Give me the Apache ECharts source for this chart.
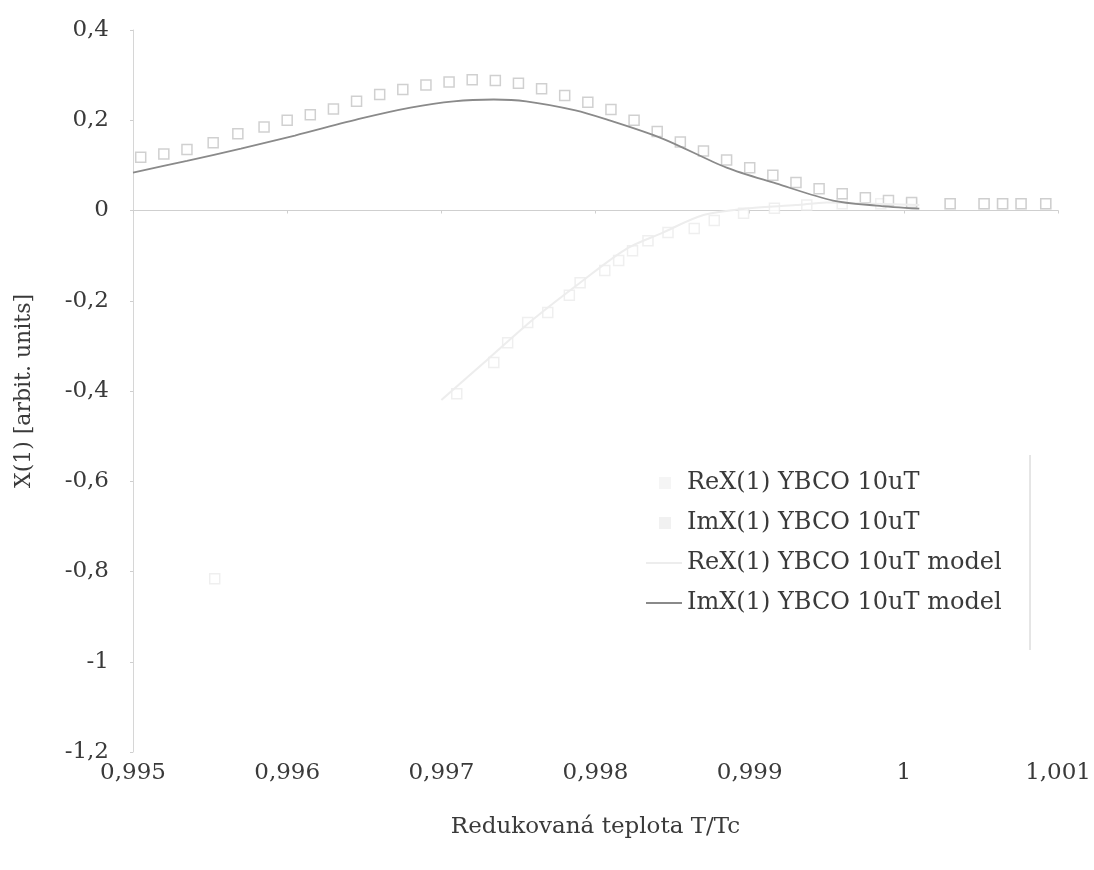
<!DOCTYPE html>
<html>
<head>
<meta charset="utf-8">
<script src="https://cdn.jsdelivr.net/npm/echarts@6/dist/echarts.min.js"></script>
<style>
  html, body { margin: 0; padding: 0; background: #fff; }
</style>
</head>
<body>
<div id="main" style="width: 1094px;height: 870px"></div>
<script type="text/javascript">
    // nazvy serii
    var seriesNames = ['ReX(1) YBCO 10uT', 'ImX(1) YBCO 10uT', 'ReX(1) YBCO 10uT model', 'ImX(1) YBCO 10uT model'];

    // ReX(1) mereni
    var reT = [0.99553, 0.99710, 0.99734, 0.99743, 0.99756, 0.99769, 0.99783, 0.99790, 0.99806, 0.99815,
               0.99824, 0.99834, 0.99847, 0.99864, 0.99877, 0.99896, 0.99916, 0.99937, 0.99960, 0.99985,
               1.00005, 1.00030, 1.00052, 1.00064, 1.00076, 1.00092];
    var reX = [-0.816, -0.406, -0.337, -0.293, -0.248, -0.226, -0.188, -0.160, -0.133, -0.111,
               -0.089, -0.067, -0.049, -0.040, -0.022, -0.006, 0.005, 0.012, 0.015, 0.015,
               0.015, 0.015, 0.015, 0.015, 0.015, 0.015];

    // ImX(1) mereni
    var imT = [0.99505, 0.99520, 0.99535, 0.99552, 0.99568, 0.99585, 0.99600, 0.99615, 0.99630, 0.99645,
               0.99660, 0.99675, 0.99690, 0.99705, 0.99720, 0.99735, 0.99750, 0.99765, 0.99780, 0.99795,
               0.99810, 0.99825, 0.99840, 0.99855, 0.99870, 0.99885, 0.99900, 0.99915, 0.99930, 0.99945,
               0.99960, 0.99975, 0.99990, 1.00005, 1.00030, 1.00052, 1.00064, 1.00076, 1.00092];
    var imX = [0.118, 0.125, 0.135, 0.150, 0.170, 0.185, 0.200, 0.212, 0.225, 0.242,
               0.257, 0.268, 0.278, 0.285, 0.290, 0.288, 0.282, 0.270, 0.255, 0.240,
               0.224, 0.200, 0.175, 0.152, 0.132, 0.112, 0.095, 0.078, 0.062, 0.048,
               0.037, 0.028, 0.022, 0.018, 0.015, 0.015, 0.015, 0.015, 0.015];

    // ReX(1) model
    var reModelT = [0.99700, 0.99730, 0.99760, 0.99790, 0.99820, 0.99843, 0.99870, 0.99900, 0.99930, 0.99950, 0.99980, 1.00010];
    var reModelX = [-0.420, -0.330, -0.240, -0.160, -0.085, -0.050, -0.010, 0.005, 0.012, 0.018, 0.015, 0.012];

    // ImX(1) model
    var imModelT = [0.99500, 0.99535, 0.99570, 0.99605, 0.99648, 0.99680, 0.99708, 0.99734, 0.99755, 0.99787,
                    0.99806, 0.99843, 0.99885, 0.99917, 0.99954, 0.99982, 1.00010];
    var imModelX = [0.084, 0.110, 0.137, 0.166, 0.204, 0.228, 0.242, 0.246, 0.242, 0.222,
                    0.203, 0.160, 0.095, 0.060, 0.022, 0.011, 0.004];

    function pairs(xs, ys) {
        return xs.map(function (x, i) { return [x, ys[i]]; });
    }
    function czNum(v, d) {
        return String(parseFloat(v.toFixed(d))).replace('.', ',');
    }

    var textFont = 'DejaVu Serif';
    // ctverecek uprostred ikony legendy
    var squareIcon = 'path://M0,0M36,12M13,0H25V12H13Z';

    var myChart = echarts.init(document.getElementById('main'));

    var option = {
        backgroundColor: '#ffffff',
        animation: false,
        grid: { left: 133, right: 27, top: 30, bottom: 118 },
        legend: {
            orient: 'vertical',
            left: 640,
            top: 466,
            itemWidth: 36,
            itemHeight: 12,
            itemGap: 16,
            data: [
                { name: seriesNames[0], icon: squareIcon, itemStyle: { color: '#f3f3f3', borderWidth: 0 } },
                { name: seriesNames[1], icon: squareIcon, itemStyle: { color: '#eeeeee', borderWidth: 0 } },
                { name: seriesNames[2], itemStyle: { opacity: 0 } },
                { name: seriesNames[3], itemStyle: { opacity: 0 } }
            ],
            textStyle: { fontFamily: textFont, fontSize: 24, color: '#3a3a3a' }
        },
        xAxis: {
            type: 'value',
            min: 0.995,
            max: 1.001,
            interval: 0.001,
            name: 'Redukovaná teplota T/Tc',
            nameLocation: 'middle',
            nameGap: 64,
            nameTextStyle: { fontFamily: textFont, fontSize: 23, color: '#3a3a3a' },
            axisLine: { lineStyle: { color: '#cfcfcf', width: 1 } },
            axisTick: { show: true, length: 3, lineStyle: { color: '#cfcfcf' } },
            splitLine: { show: false },
            axisLabel: {
                margin: 10,
                fontFamily: textFont,
                fontSize: 23,
                color: '#3a3a3a',
                formatter: function (v) { return czNum(v, 3); }
            }
        },
        yAxis: {
            type: 'value',
            min: -1.2,
            max: 0.4,
            interval: 0.2,
            name: 'X(1) [arbit. units]',
            nameLocation: 'middle',
            nameGap: 98,
            nameTextStyle: { fontFamily: textFont, fontSize: 22, color: '#3a3a3a' },
            axisLine: { show: true, lineStyle: { color: '#d6d6d6', width: 1 } },
            axisTick: { show: true, length: 3, lineStyle: { color: '#cfcfcf' } },
            splitLine: { show: false },
            axisLabel: {
                margin: 24,
                fontFamily: textFont,
                fontSize: 23,
                color: '#3a3a3a',
                formatter: function (v) { return czNum(v, 1); }
            }
        },
        graphic: [{
            type: 'line',
            shape: { x1: 1030, y1: 455, x2: 1030, y2: 650 },
            style: { stroke: '#cccccc', lineWidth: 1 }
        }],
        series: [
            {
                name: seriesNames[0],
                type: 'scatter',
                symbol: 'rect',
                symbolSize: 10,
                itemStyle: { color: '#ffffff', borderColor: '#ebebeb', borderWidth: 1.5 },
                data: pairs(reT, reX)
            },
            {
                name: seriesNames[1],
                type: 'scatter',
                symbol: 'rect',
                symbolSize: 10,
                itemStyle: { color: '#ffffff', borderColor: '#c4c4c4', borderWidth: 1.5 },
                data: pairs(imT, imX)
            },
            {
                name: seriesNames[2],
                type: 'line',
                symbol: 'none',
                smooth: 0.3,
                lineStyle: { color: '#ededed', width: 2 },
                itemStyle: { color: '#ededed' },
                data: pairs(reModelT, reModelX)
            },
            {
                name: seriesNames[3],
                type: 'line',
                symbol: 'none',
                smooth: 0.3,
                lineStyle: { color: '#8a8a8a', width: 1.8 },
                itemStyle: { color: '#8a8a8a' },
                data: pairs(imModelT, imModelX)
            }
        ]
    };

    myChart.setOption(option);
</script>
</body>
</html>
